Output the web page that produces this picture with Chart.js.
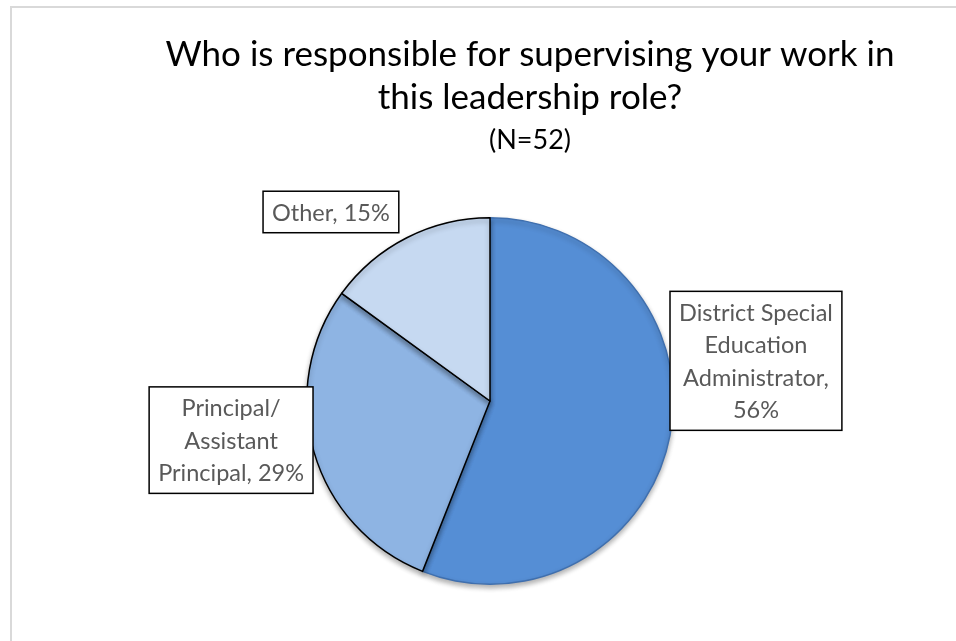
<!DOCTYPE html>
<html>
<head>
<meta charset="utf-8">
<script src="https://cdn.jsdelivr.net/npm/chart.js@4/dist/chart.umd.min.js"></script>
<style>
  html, body { margin: 0; padding: 0; background: #fff; }
  #chart { display: block; }
</style>
</head>
<body>
<canvas id="chart" width="956" height="641"></canvas>
<script>
"use strict";

// data
const categories = ['District Special Education Administrator', 'Principal/ Assistant Principal', 'Other'];
const percents = [56, 29, 15];
const labelLines = [
    ['District Special', 'Education', 'Administrator,', '56%'],
    ['Principal/', 'Assistant', 'Principal, 29%'],
    ['Other, 15%']
];
const titleLines = ['Who is responsible for supervising your work in', 'this leadership role?'];
const subtitle = '(N=52)';

const sliceColors = ['#558ed5', '#8eb4e3', '#c6d9f1'];
const sliceBorders = ['#3f6fae', '#000000', '#000000'];

const FONT = 'Lato, "Open Sans", sans-serif';

/********************************************************/
let frameAndTitle = {
    id: 'frameAndTitle',
    beforeDraw(chart) {
        let ctx = chart.ctx;
        ctx.save();
        ctx.fillStyle = '#fff';
        ctx.fillRect(0, 0, chart.width, chart.height);
        ctx.strokeStyle = '#d9d9d9';
        ctx.lineWidth = 2;
        ctx.strokeRect(11, 7, chart.width + 20, chart.height + 20);

        ctx.fillStyle = '#000';
        ctx.textAlign = 'center';
        ctx.textBaseline = 'alphabetic';
        ctx.font = '35px ' + FONT;
        ctx.fillText(titleLines[0], 530, 66);
        ctx.fillText(titleLines[1], 530, 109);
        ctx.font = '27px ' + FONT;
        ctx.fillText(subtitle, 530, 149);
        ctx.restore();
    }
};

let pieShadow = {
    id: 'pieShadow',
    beforeDatasetsDraw(chart) {
        let ctx = chart.ctx;
        ctx.save();
        ctx.shadowColor = 'rgba(0, 0, 0, 0.3)';
        ctx.shadowBlur = 5;
        ctx.shadowOffsetY = 3;
    },
    afterDatasetsDraw(chart) {
        chart.ctx.restore();
    }
};

// box labels outside the slice ends, like Excel's best fit
let boxLabels = {
    id: 'boxLabels',
    afterDatasetsDraw(chart) {
        let ctx = chart.ctx;
        let arcs = chart.getDatasetMeta(0).data;
        let lineH = 32.5;
        let padX = 9;
        let padY = 4.5;
        ctx.save();
        ctx.font = '23.5px ' + FONT;
        arcs.forEach((arc, i) => {
            let p = arc.getProps(['x', 'y', 'startAngle', 'endAngle', 'outerRadius'], true);
            let mid = (p.startAngle + p.endAngle) / 2;
            let ax = p.x + Math.cos(mid) * p.outerRadius;
            let ay = p.y + Math.sin(mid) * p.outerRadius;
            let lines = labelLines[i];
            let w = Math.max(...lines.map(l => ctx.measureText(l).width)) + padX * 2;
            let h = lines.length * lineH + padY * 2;
            let left, top;
            if (i === 0) {
                left = ax;
                top = ay - 5 - h;
            } else if (i === 1) {
                left = ax - 1 - w;
                top = ay - 12 - h / 2;
            } else {
                left = ax - 8 - w;
                top = ay - 5 - h;
            }
            ctx.fillStyle = '#fff';
            ctx.fillRect(left, top, w, h);
            ctx.strokeStyle = '#000';
            ctx.lineWidth = 1.5;
            ctx.strokeRect(left, top, w, h);
            ctx.fillStyle = '#595959';
            ctx.textAlign = 'center';
            ctx.textBaseline = 'middle';
            lines.forEach((l, j) => {
                ctx.fillText(l, left + w / 2, top + padY + lineH * (j + 0.5) + 1);
            });
        });
        ctx.restore();
    }
};

/********************************************************/
let pieChart = {
    type: 'pie',
    data: {
        labels: categories,
        datasets: [{
            data: percents,
            backgroundColor: sliceColors,
            borderColor: sliceBorders,
            borderWidth: 1.5,
            hoverBorderWidth: 1.5,
            borderJoinStyle: 'round'
        }]
    },
    options: {
        responsive: false,
        animation: false,
        events: [],
        layout: {
            padding: { left: 306, top: 217, right: 282, bottom: 56 }
        },
        plugins: {
            legend: { display: false },
            tooltip: { enabled: false },
            title: { display: false }
        }
    },
    plugins: [frameAndTitle, pieShadow, boxLabels]
};

new Chart(document.getElementById('chart'), pieChart);
</script>
</body>
</html>
